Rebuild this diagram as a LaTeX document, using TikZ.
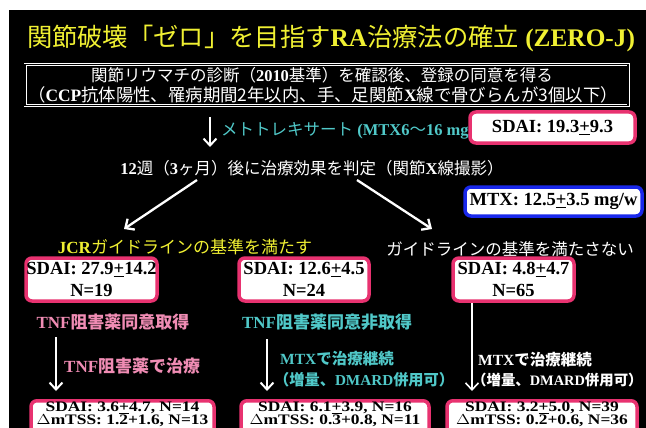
\documentclass[tikz,border=0pt]{standalone}
\usepackage{fontspec}
\setmainfont{Liberation Serif}
\newfontfamily\cjk{Noto Sans CJK JP}
\usetikzlibrary{arrows.meta}
\definecolor{ttl}{RGB}{240,240,50}
\definecolor{cyn}{RGB}{80,200,200}
\definecolor{pnk}{RGB}{240,140,180}
\definecolor{pbord}{RGB}{232,50,112}
\definecolor{bbord}{RGB}{25,40,235}
\newcommand{\J}[1]{{\cjk #1}}
\newcommand{\fs}[1]{\fontsize{#1}{#1}\selectfont}
\newcommand{\pmu}{\underline{+}}
\newcommand{\wide}[1]{\scalebox{1.2}[1]{#1}}
\begin{document}
\begin{tikzpicture}[x=1pt,y=-1pt,
  pbox/.style={draw=pbord, line width=3.5pt, fill=white, rounded corners=6pt, inner sep=0pt},
  bbox/.style={draw=bbord, line width=3.5pt, fill=white, rounded corners=6pt, inner sep=0pt},
  txt/.style={inner sep=0pt, text=white},
  arr/.style={draw=white, line width=2pt, -{Straight Barb[length=7pt,width=13pt]}},
  boxtxt/.style={inner sep=0pt, text=black, font=\bfseries\fontsize{18.5}{22}\selectfont, align=center},
  lowtxt/.style={inner sep=0pt, text=black, font=\bfseries\fs{14.5}, anchor=base}]
\useasboundingbox (0,0) rectangle (646,428);
\fill[white] (0,0) rectangle (646,428);
\fill[black] (9,10) rectangle (646,428);

% title
\node[txt, text=ttl, font=\fs{25.3}] (title) at (331,38)
  {\J{関節破壊「ゼロ」を目指す}\textbf{RA}\J{治療法の確立}\textbf{ (ZERO-J)}};

% registration frame
\node[draw=white, double=black, double distance=1.6pt, line width=0.7pt,
      minimum width=603, minimum height=41, inner sep=0pt] (reg) at (326.5,85) {};
\node[txt, font=\fs{16.5}] (reg1) at (322,75)
  {\J{関節リウマチの診断（}\textbf{2010}\J{基準）を確認後、登録の同意を得る}};
\node[txt, font=\fs{17.4}] (reg2) at (323,95)
  {\J{（}\textbf{CCP}\J{抗体陽性、罹病期間2年以内、手、足関節}\textbf{X}\J{線で骨びらんが3個以下）}};

% MTX start
\coordinate (a0s) at (210,117);
\coordinate (a0e) at (210,147);
\draw[arr] (a0s) -- (a0e);
\node[txt, text=cyn, font=\fs{16.5}, anchor=west] (mtxs) at (221,131)
  {\J{メトトレキサート}\textbf{ (MTX6}\J{～}\textbf{16 mg/w)}};
\node[pbox, minimum width=165, minimum height=31] (sd0) at (552.5,127.5)
  {\bfseries\fs{18.5}SDAI: 19.3\pmu9.3};

% 12 weeks
\node[txt, font=\fs{16.5}] (w12) at (312,168)
  {\textbf{12}\J{週（}\textbf{3}\J{ヶ月）後に治療効果を判定（関節}\textbf{X}\J{線撮影）}};
\node[bbox, minimum width=177, minimum height=29] (mtxd) at (553.5,201.5)
  {\bfseries\fs{18.5}MTX: 12.5\pmu3.5 mg/w};

\coordinate (d1s) at (197,180);
\coordinate (d1e) at (124,229);
\coordinate (d2s) at (357,180);
\coordinate (d2e) at (432,229);
\draw[arr, line width=2.3pt] (d1s) -- (d1e);
\draw[arr, line width=2.3pt] (d2s) -- (d2e);

\node[txt, text=ttl, font=\fs{17}] (jcr) at (185,247)
  {\textbf{JCR}\J{ガイドラインの基準を満たす}};
\node[txt, font=\fs{16.5}] (njcr) at (510,249)
  {\J{ガイドラインの基準を満たさない}};

% second row boxes
\node[pbox, minimum width=131, minimum height=43] (b1) at (91.5,279.5) {};
\node[boxtxt] (b1t) at (b1.center) {SDAI: 27.9\pmu14.2\\N=19};
\node[pbox, minimum width=130, minimum height=43] (b2) at (304,279.5) {};
\node[boxtxt] (b2t) at (b2.center) {SDAI: 12.6\pmu4.5\\N=24};
\node[pbox, minimum width=121, minimum height=43] (b3) at (513.5,279.5) {};
\node[boxtxt] (b3t) at (b3.center) {SDAI: 4.8\pmu4.7\\N=65};

% branch texts
\node[txt, text=pnk, font=\bfseries\fs{17}] (tnf1) at (113,322)
  {TNF\J{阻害薬同意取得}};
\node[txt, text=pnk, font=\bfseries\fs{17}, anchor=west] (tnf2) at (64,366)
  {TNF\J{阻害薬で治療}};
\node[txt, text=cyn, font=\bfseries\fs{17}] (tnf3) at (327,322)
  {TNF\J{阻害薬同意非取得}};
\node[txt, text=cyn, font=\bfseries\fs{15.5}, anchor=west] (mc1) at (280,359)
  {MTX\J{で治療継続}};
\node[txt, text=cyn, font=\bfseries\fs{15.2}, anchor=west] (mc2) at (274,380)
  {\J{（増量、}DMARD\J{併用可）}};
\node[txt, font=\bfseries\fs{15.5}, anchor=west] (mw1) at (478,360)
  {MTX\J{で治療継続}};
\node[txt, font=\bfseries\fs{14.4}, anchor=west] (mw2) at (472,380)
  {\J{（増量、}DMARD\J{併用可）}};

\coordinate (v1s) at (56,337);
\coordinate (v1e) at (56,391);
\coordinate (v2s) at (267,339);
\coordinate (v2e) at (267,391);
\coordinate (v3e) at (472,391);
\draw[arr] (v1s) -- (v1e);
\draw[arr] (v2s) -- (v2e);
\draw[arr, line width=1.6pt] (v3e |- b3.south) -- (v3e);

% bottom boxes
\node[pbox, minimum width=183, minimum height=50, anchor=north] (b4) at (122.5,399) {};
\node[lowtxt] (b4a) at (122.5,411.3) {\wide{SDAI: 3.6\pmu4.7, N=14}};
\node[lowtxt] (b4b) at (122.5,424.8) {\wide{$\Delta$mTSS: 1.2+1.6, N=13}};
\node[pbox, minimum width=188, minimum height=50, anchor=north] (b5) at (335,399) {};
\node[lowtxt] (b5a) at (335,411.3) {\wide{SDAI: 6.1\pmu3.9, N=16}};
\node[lowtxt] (b5b) at (335,424.8) {\wide{$\Delta$mTSS: 0.3+0.8, N=11}};
\node[pbox, minimum width=190, minimum height=50, anchor=north] (b6) at (542,399) {};
\node[lowtxt] (b6a) at (542,411.3) {\wide{SDAI: 3.2\pmu5.0, N=39}};
\node[lowtxt] (b6b) at (542,424.8) {\wide{$\Delta$mTSS: 0.2+0.6, N=36}};
\end{tikzpicture}
\end{document}
